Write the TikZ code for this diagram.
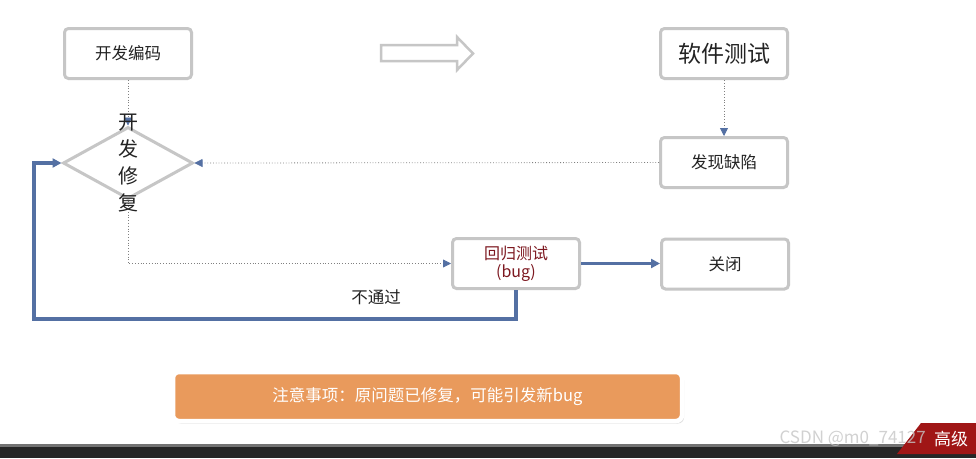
\documentclass[tikz,border=0pt]{standalone}
\usepackage{fontspec}
\setmainfont{Noto Sans CJK SC}
\usepackage{tikz}
\usetikzlibrary{positioning,arrows.meta,shapes.geometric,shadows}
\usepackage{xcolor}
\definecolor{flowblue}{RGB}{84,112,163}
\definecolor{boxgray}{RGB}{198,198,198}
\definecolor{bugred}{RGB}{125,24,32}
\definecolor{noteorange}{RGB}{233,154,92}
\definecolor{textdark}{RGB}{35,35,35}
\definecolor{cornerred}{RGB}{160,22,22}

\begin{document}
\begin{tikzpicture}[x=1pt,y=-1pt,
  stepbox/.style={draw=boxgray,line width=3pt,rounded corners=4pt,fill=white,minimum width=127pt,minimum height=50pt,align=center,text=textdark,font=\fontsize{16.5}{19}\selectfont},
  dotline/.style={draw=gray,dotted,line width=0.8pt,-{Triangle[length=8pt,width=8pt,color=flowblue]}},
  loopline/.style={draw=flowblue,line width=3.4pt,-{Triangle[length=9pt,width=9pt]}},
  note/.style={fill=noteorange,draw=white,line width=4.5pt,rounded corners=6pt,minimum width=509pt,minimum height=49pt,text=white,font=\fontsize{16.5}{19}\selectfont,drop shadow={opacity=0.35,fill=gray!70,shadow xshift=2pt,shadow yshift=-2.5pt}}]
\fill[white] (0,0) rectangle (976,458);
\useasboundingbox (0,0) rectangle (976,458);

\node[stepbox] (code) at (128,53.5) {开发编码};
\node[stepbox,font=\fontsize{23}{26}\selectfont] (test) at (724,53.5) {软件测试};
\node[stepbox] (defect) at (724,162.5) {发现缺陷};
\node[diamond,draw=boxgray,line width=3pt,minimum width=130pt,minimum height=72pt,inner sep=0pt] (fix) at (128,163) {};
\node[stepbox,text=bugred,font=\fontsize{16}{18}\selectfont] (retest) at (516,263.5) {回归测试\\(bug)};
\node[stepbox] (close) at (725,264) {关闭};
\node[text=textdark,font=\fontsize{16.5}{19}\selectfont] (fail) at (376,297) {不通过};
\node[note] (warn) at (427.5,396.5) {注意事项：原问题已修复，可能引发新bug};
\coordinate (loop) at (34,319);

\draw[dotline] (code.south) -- (fix.north);
\draw[dotline] (test.south) -- (defect.north);
\draw[dotline] (defect.west) -- (fix.east);
\draw[dotline] (fix.south) |- (retest.west);
\draw[loopline] (retest.east) -- (retest.east -| close.west);
\draw[loopline] (retest.south) |- (loop) |- (fix.west);
\node[align=center,text=textdark,font=\fontsize{20}{27}\selectfont] (fixtext) at (128,163) {开\\发\\修\\复};

\draw[boxgray,line width=2.5pt] (381,45) -- (457,45) -- (457,37) -- (473,53.5) -- (457,70) -- (457,61) -- (381,61) -- cycle;

\fill[black!55] (0,444) rectangle (976,447);
\fill[black!85] (0,447) rectangle (976,458);
\fill[cornerred] (897,454) -- (921,423) -- (976,423) -- (976,454) -- cycle;
\node[text=white,font=\fontsize{17}{19}\selectfont] (level) at (951,439) {高级};
\node[anchor=west,text=gray!45,opacity=0.8,font=\fontsize{17}{19}\selectfont] (mark) at (776,439) {CSDN @m0\_74127};
\end{tikzpicture}
\end{document}
